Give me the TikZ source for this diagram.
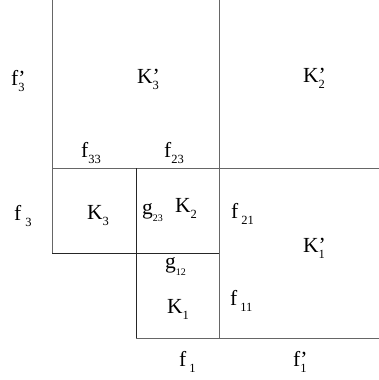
\documentclass[tikz,border=0pt]{standalone}
\usepackage{fontspec}
\setmainfont{Liberation Serif}
\usepackage{tikz}
\usetikzlibrary{positioning}
\newcommand{\lsub}[1]{\raisebox{-0.3em}{\fontsize{12.5}{12.5}\selectfont #1}}
\newcommand{\gsub}[1]{\raisebox{-0.34em}{\fontsize{10}{10}\selectfont #1}}
\newcommand{\prm}{\rlap{’}}

\begin{document}
\begin{tikzpicture}[x=1pt,y=-1pt,
  wall/.style={line width=0.9pt, draw=black!60},
  cut/.style={line width=0.9pt, draw=black!85},
  lbl/.style={anchor=base west, inner sep=0pt, font=\fontsize{21.5}{24}\selectfont},
]
\useasboundingbox (0,0) rectangle (379,380);

% --- grid of the blocks ---
\def\xA{52}\def\xB{136}\def\xC{219}\def\xR{379}
\def\yA{168}\def\yB{253}\def\yC{338}

\coordinate (tl) at (\xA,0);
\coordinate (tm) at (\xC,0);
\coordinate (ml) at (\xA,\yA);
\coordinate (mr) at (\xR,\yA);
\coordinate (mc) at (\xB,\yA);
\coordinate (bl) at (\xA,\yB);
\coordinate (bm) at (\xC,\yB);
\coordinate (ec) at (\xB,\yC);
\coordinate (em) at (\xC,\yC);
\coordinate (er) at (\xR,\yC);

\draw[wall] (tl) -- (bl);
\draw[wall] (tm) -- (em);
\draw[wall] (ml) -- (mr);
\draw[cut] (mc) -- (ec);
\draw[cut] (bl) -- (bm);
\draw[wall] (ec) -- (er);

% --- block names ---
\node[lbl] (k3p) at (137,83) {K\prm\lsub{3}};
\node[lbl] (k2p) at (303,82) {K\prm\lsub{2}};
\node[lbl] (k3) at (87,219) {K\lsub{3}};
\node[lbl] (k2) at (175,212) {K\lsub{2}};
\node[lbl] (k1p) at (303,252) {K\prm\lsub{1}};
\node[lbl] (k1) at (167,313) {K\lsub{1}};

% --- edge labels ---
\node[lbl] (f3p) at (11,85) {f\prm\lsub{3}};
\node[lbl] (f33) at (81,157) {f\lsub{33}};
\node[lbl] (f23) at (164,157) {f\lsub{23}};
\node[lbl] (f3) at (14,220) {f\hspace{4pt}\lsub{3}};
\node[lbl] (g23) at (142,214) {g\gsub{23}};
\node[lbl] (f21) at (231,218) {f\hspace{3pt}\lsub{21}};
\node[lbl] (g12) at (165,268) {g\gsub{12}};
\node[lbl] (f11) at (230,305) {f\hspace{3pt}\lsub{11}};
\node[lbl] (f1) at (179,366) {f\hspace{3pt}\lsub{1}};
\node[lbl] (f1p) at (293,366) {f\prm\lsub{1}};

\end{tikzpicture}
\end{document}
